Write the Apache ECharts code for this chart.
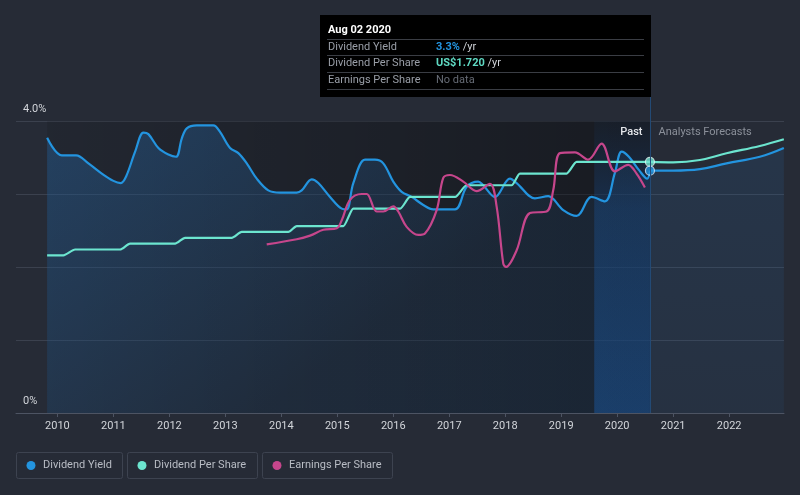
<!DOCTYPE html>
<html><head><meta charset="utf-8">
<script src="https://cdn.jsdelivr.net/npm/echarts@6/dist/echarts.min.js"></script>
<style>html,body{margin:0;padding:0;background:#262b36;}#c{width:800px;height:495px;}</style>
</head><body><div id="c"></div><script>
// ---- data (x = decimal year) ----
const yearTicks = [2010,2011,2012,2013,2014,2015,2016,2017,2018,2019,2020,2021,2022];
const yieldTickLabels = {0:'0%', 4:'4.0%'};
const dividendYieldPast = [
 [2009.816,3.77],[2010.079,3.53],[2010.334,3.53],[2010.554,3.42],[2010.793,3.28],[2011.0,3.18],
 [2011.132,3.15],[2011.227,3.24],[2011.388,3.58],[2011.536,3.84],[2011.625,3.82],[2011.804,3.63],
 [2011.982,3.54],[2012.12,3.51],[2012.221,3.76],[2012.311,3.90],[2012.489,3.94],[2012.786,3.94],
 [2012.905,3.85],[2013.084,3.63],[2013.232,3.56],[2013.382,3.42],[2013.561,3.21],[2013.768,3.05],
 [2013.977,3.02],[2014.275,3.02],[2014.364,3.05],[2014.543,3.20],[2014.661,3.15],[2014.87,2.96],
 [2015.079,2.80],[2015.168,2.79],[2015.286,3.15],[2015.495,3.47],[2015.673,3.47],[2015.821,3.42],
 [2016.0,3.17],[2016.15,3.03],[2016.329,2.96],[2016.536,2.85],[2016.714,2.79],[2017.102,2.79],
 [2017.311,3.10],[2017.518,3.17],[2017.607,3.12],[2017.816,2.96],[2018.084,3.21],[2018.204,3.15],
 [2018.53,2.94],[2018.768,2.97],[2019.036,2.78],[2019.275,2.70],[2019.543,2.96],[2019.78,2.90],
 [2019.959,3.29],[2020.079,3.58],[2020.209,3.51],[2020.387,3.33],[2020.536,3.21],[2020.585,3.32]
];
const dividendYieldForecast = [
 [2020.585,3.32],[2021.0,3.32],[2021.477,3.34],[2021.954,3.42],[2022.548,3.51],[2022.977,3.63]
];
const dpsPast = [
 [2009.816,1.08],[2010.107,1.08],[2010.316,1.12],[2011.12,1.12],[2011.298,1.16],[2012.102,1.16],
 [2012.28,1.20],[2013.114,1.20],[2013.293,1.24],[2014.125,1.24],[2014.275,1.28],[2015.107,1.28],
 [2015.286,1.40],[2016.123,1.40],[2016.3,1.48],[2017.105,1.48],[2017.311,1.56],[2018.114,1.56],
 [2018.262,1.64],[2019.096,1.64],[2019.275,1.72],[2020.585,1.72]
];
const dpsForecast = [
 [2020.585,1.72],[2021.0,1.717],[2021.477,1.733],[2021.954,1.779],[2022.548,1.829],[2022.977,1.875]
];
const epsPast = [
 [2013.739,2.31],[2014.275,2.38],[2014.513,2.43],[2014.75,2.51],[2014.989,2.53],[2015.079,2.64],
 [2015.227,2.92],[2015.436,3.00],[2015.525,3.00],[2015.704,2.76],[2015.821,2.76],[2016.0,2.83],
 [2016.089,2.76],[2016.239,2.55],[2016.446,2.44],[2016.566,2.46],[2016.775,2.78],[2016.893,3.22],
 [2017.013,3.26],[2017.25,3.17],[2017.489,3.04],[2017.727,3.14],[2017.846,2.83],[2017.964,2.05],
 [2018.013,2.00],[2018.204,2.23],[2018.441,2.74],[2018.739,2.76],[2018.857,3.05],[2018.977,3.56],
 [2019.245,3.57],[2019.482,3.47],[2019.721,3.69],[2019.959,3.31],[2020.196,3.40],[2020.346,3.28],
 [2020.495,3.09]
];
const today = 2020.585;
const pastBandStart = 2019.59;
const dataStart = 2009.816;
const tipTitle = 'Aug 02 2020';
const tipRows = [
 {label:'Dividend Yield', value:'3.3%', unit:' /yr', color:'#2394df'},
 {label:'Dividend Per Share', value:'US$1.720', unit:' /yr', color:'#5fd9c3'},
 {label:'Earnings Per Share', value:'No data', unit:'', color:'#666b75'}
];
const legendItems = [
 {name:'Dividend Yield', color:'#2394df'},
 {name:'Dividend Per Share', color:'#6ce5cf'},
 {name:'Earnings Per Share', color:'#c6468c'}
];
const C_BLUE='#2394df', C_TEAL='#6ce5cf', C_PINK='#c6468c';
const FONT='Roboto';

const chart = echarts.init(document.getElementById('c'), null, {renderer:'canvas'});
chart.setOption({
  backgroundColor:'#262b36',
  animation:false,
  grid:{left:16,right:16,top:121,bottom:82,containLabel:false},
  xAxis:{type:'value',min:2009.26,max:2022.98,
    axisLine:{lineStyle:{color:'#4d5463',width:1}},
    axisTick:{show:true,length:4,customValues:yearTicks,lineStyle:{color:'#4d5463'}},
    axisLabel:{customValues:yearTicks,color:'#d2d5da',fontSize:11,fontFamily:FONT,margin:8,formatter:v=>String(Math.round(v))},
    splitLine:{show:false}},
  yAxis:[
    {type:'value',min:0,max:4,interval:1,
     axisLine:{show:false},axisTick:{show:false},
     splitLine:{lineStyle:{color:'#3b414e',width:1}},
     axisLabel:{inside:true,margin:7,verticalAlign:'bottom',padding:[0,0,6,0],color:'#d2d5da',fontSize:11,fontFamily:FONT,
       formatter:v=>yieldTickLabels[v]||''}},
    {type:'value',min:0,max:2.0,show:false,splitLine:{show:false}},
    {type:'value',min:0,max:4.0,show:false,splitLine:{show:false}}
  ],
  series:[
    {type:'line',data:[],z:1,silent:true,
     markArea:{silent:true,itemStyle:{color:{type:'linear',x:0,y:0,x2:1,y2:0,colorStops:[{offset:0,color:'rgba(0,0,0,0.10)'},{offset:1,color:'rgba(0,0,0,0.38)'}]}},
       data:[[{xAxis:dataStart},{xAxis:today}]]}},
    {type:'line',data:[],z:3,silent:true,
     markArea:{silent:true,itemStyle:{color:{type:'linear',x:0,y:0,x2:0,y2:1,colorStops:[{offset:0,color:'rgba(25,80,150,0.06)'},{offset:0.3,color:'rgba(25,90,170,0.3)'},{offset:1,color:'rgba(25,95,180,0.42)'}]}},
       data:[[{xAxis:pastBandStart},{xAxis:today}]]}},
    {name:'Dividend Yield',type:'line',data:dividendYieldPast,smooth:0.35,showSymbol:false,z:2,
     lineStyle:{color:C_BLUE,width:2.2},
     areaStyle:{origin:'start',color:{type:'linear',x:0,y:0,x2:0.35,y2:1,colorStops:[{offset:0,color:'rgba(38,110,180,0.52)'},{offset:1,color:'rgba(38,110,180,0.17)'}]}}},
    {name:'Dividend Yield F',type:'line',data:dividendYieldForecast,smooth:0.4,showSymbol:false,z:2,
     lineStyle:{color:C_BLUE,width:2.2},
     areaStyle:{origin:'start',color:{type:'linear',x:0,y:0,x2:0,y2:1,colorStops:[{offset:0,color:'rgba(38,110,180,0.22)'},{offset:1,color:'rgba(38,110,180,0.13)'}]}}},
    {name:'Dividend Per Share',type:'line',yAxisIndex:1,data:dpsPast,smooth:0.25,smoothMonotone:'x',showSymbol:false,z:4,
     lineStyle:{color:C_TEAL,width:2.2}},
    {name:'Dividend Per Share F',type:'line',yAxisIndex:1,data:dpsForecast,smooth:0.4,showSymbol:false,z:4,
     lineStyle:{color:C_TEAL,width:2.2}},
    {name:'Earnings Per Share',type:'line',yAxisIndex:2,data:epsPast,smooth:0.35,showSymbol:false,z:5,
     lineStyle:{color:C_PINK,width:2.2}},
    {type:'scatter',yAxisIndex:1,data:[dpsForecast[0]],symbolSize:9,z:8,
     itemStyle:{color:'#72e2cf',borderColor:'#dff6f1',borderWidth:1.2}},
    {type:'scatter',data:[dividendYieldForecast[0]],symbolSize:9,z:8,
     itemStyle:{color:C_BLUE,borderColor:'#d3e6f7',borderWidth:1.2}}
  ]
});

// overlay: tooltip box, today line, past / forecast labels, legend
const pTop = chart.convertToPixel({xAxisIndex:0,yAxisIndex:0},[today,4]);
const pBot = chart.convertToPixel({xAxisIndex:0,yAxisIndex:0},[today,0]);
const lx = Math.round(pTop[0])+0.5;
const boxRight = lx+0.5, boxW = 331, boxL = boxRight-boxW, boxT = 15, boxB = 97;
const g = [];
g.push({type:'line',shape:{x1:lx,y1:boxB,x2:lx,y2:pBot[1]},style:{stroke:'#234a75',lineWidth:1},z:50});
g.push({type:'rect',shape:{x:boxL,y:boxT,width:boxW,height:boxB-boxT},style:{fill:'#000000'},z:60});
g.push({type:'text',x:boxL+8,y:30,style:{text:tipTitle,fill:'#ffffff',font:'bold 11px '+FONT,verticalAlign:'middle'},z:61});
const sepY=[39.5,55.5,72.5,89.5];
sepY.forEach(y=>g.push({type:'line',shape:{x1:boxL+7,y1:y,x2:boxRight-7,y2:y},style:{stroke:'#3a3d44',lineWidth:1},z:61}));
const rowY=[47,63.5,80.5];
tipRows.forEach((r,i)=>{
  g.push({type:'text',x:boxL+8,y:rowY[i],style:{text:r.label,fill:'#9a9fa8',font:'11px '+FONT,verticalAlign:'middle'},z:61});
  g.push({type:'text',x:boxL+116,y:rowY[i],style:{rich:{v:{fill:r.color,font:(r.unit?'bold ':'')+'11px '+FONT},u:{fill:'#d0d3d8',font:'11px '+FONT}},text:'{v|'+r.value+'}'+(r.unit?'{u|'+r.unit+'}':''),verticalAlign:'middle'},z:61});
});
g.push({type:'text',x:lx-8,y:132,style:{text:'Past',fill:'#e4e6ea',font:'500 11px '+FONT,align:'right',verticalAlign:'middle'},z:61});
g.push({type:'text',x:lx+8,y:132,style:{text:'Analysts Forecasts',fill:'#8b909a',font:'11px '+FONT,align:'left',verticalAlign:'middle'},z:61});
const legBoxes=[[16,106],[127,130],[262,130]];
legendItems.forEach((it,i)=>{
  const [bx,bw]=legBoxes[i];
  g.push({type:'rect',shape:{x:bx+0.5,y:452.5,width:bw,height:26,r:2},style:{fill:'#262b36',stroke:'#3d4350',lineWidth:1},z:40});
  g.push({type:'circle',shape:{cx:bx+15,cy:465.5,r:4.5},style:{fill:it.color},z:41});
  g.push({type:'text',x:bx+27,y:465.5,style:{text:it.name,fill:'#b9bdc5',font:'11px '+FONT,verticalAlign:'middle'},z:41});
});
chart.setOption({graphic:g});
</script></body></html>
